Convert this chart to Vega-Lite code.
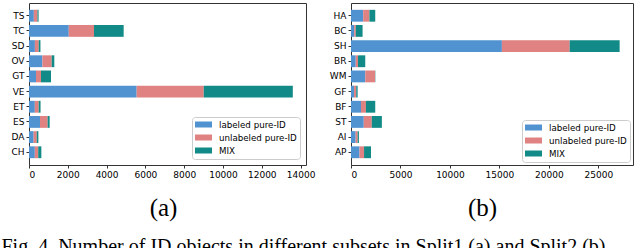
{
  "$schema": "https://vega.github.io/schema/vega-lite/v6.json",
  "background": "white",
  "padding": {"left": 0, "top": 2, "right": 0, "bottom": 0},
  "datasets": {
    "a": [
      {"s": "TS", "k": 1, "type": "labeled pure-ID", "n": 250}, {"s": "TS", "k": 2, "type": "unlabeled pure-ID", "n": 185}, {"s": "TS", "k": 3, "type": "MIX", "n": 60},
      {"s": "TC", "k": 1, "type": "labeled pure-ID", "n": 2050}, {"s": "TC", "k": 2, "type": "unlabeled pure-ID", "n": 1300}, {"s": "TC", "k": 3, "type": "MIX", "n": 1530},
      {"s": "SD", "k": 1, "type": "labeled pure-ID", "n": 305}, {"s": "SD", "k": 2, "type": "unlabeled pure-ID", "n": 195}, {"s": "SD", "k": 3, "type": "MIX", "n": 90},
      {"s": "OV", "k": 1, "type": "labeled pure-ID", "n": 690}, {"s": "OV", "k": 2, "type": "unlabeled pure-ID", "n": 480}, {"s": "OV", "k": 3, "type": "MIX", "n": 135},
      {"s": "GT", "k": 1, "type": "labeled pure-ID", "n": 360}, {"s": "GT", "k": 2, "type": "unlabeled pure-ID", "n": 260}, {"s": "GT", "k": 3, "type": "MIX", "n": 515},
      {"s": "VE", "k": 1, "type": "labeled pure-ID", "n": 5550}, {"s": "VE", "k": 2, "type": "unlabeled pure-ID", "n": 3460}, {"s": "VE", "k": 3, "type": "MIX", "n": 4590},
      {"s": "ET", "k": 1, "type": "labeled pure-ID", "n": 300}, {"s": "ET", "k": 2, "type": "unlabeled pure-ID", "n": 200}, {"s": "ET", "k": 3, "type": "MIX", "n": 95},
      {"s": "ES", "k": 1, "type": "labeled pure-ID", "n": 567}, {"s": "ES", "k": 2, "type": "unlabeled pure-ID", "n": 395}, {"s": "ES", "k": 3, "type": "MIX", "n": 103},
      {"s": "DA", "k": 1, "type": "labeled pure-ID", "n": 240}, {"s": "DA", "k": 2, "type": "unlabeled pure-ID", "n": 160}, {"s": "DA", "k": 3, "type": "MIX", "n": 83},
      {"s": "CH", "k": 1, "type": "labeled pure-ID", "n": 300}, {"s": "CH", "k": 2, "type": "unlabeled pure-ID", "n": 175}, {"s": "CH", "k": 3, "type": "MIX", "n": 162}
    ],
    "b": [
      {"s": "HA", "k": 1, "type": "labeled pure-ID", "n": 1230}, {"s": "HA", "k": 2, "type": "unlabeled pure-ID", "n": 630}, {"s": "HA", "k": 3, "type": "MIX", "n": 590},
      {"s": "BC", "k": 1, "type": "labeled pure-ID", "n": 320}, {"s": "BC", "k": 2, "type": "unlabeled pure-ID", "n": 160}, {"s": "BC", "k": 3, "type": "MIX", "n": 690},
      {"s": "SH", "k": 1, "type": "labeled pure-ID", "n": 15250}, {"s": "SH", "k": 2, "type": "unlabeled pure-ID", "n": 6850}, {"s": "SH", "k": 3, "type": "MIX", "n": 5050},
      {"s": "BR", "k": 1, "type": "labeled pure-ID", "n": 480}, {"s": "BR", "k": 2, "type": "unlabeled pure-ID", "n": 230}, {"s": "BR", "k": 3, "type": "MIX", "n": 730},
      {"s": "WM", "k": 1, "type": "labeled pure-ID", "n": 1440}, {"s": "WM", "k": 2, "type": "unlabeled pure-ID", "n": 990}, {"s": "WM", "k": 3, "type": "MIX", "n": 30},
      {"s": "GF", "k": 1, "type": "labeled pure-ID", "n": 300}, {"s": "GF", "k": 2, "type": "unlabeled pure-ID", "n": 230}, {"s": "GF", "k": 3, "type": "MIX", "n": 140},
      {"s": "BF", "k": 1, "type": "labeled pure-ID", "n": 1010}, {"s": "BF", "k": 2, "type": "unlabeled pure-ID", "n": 500}, {"s": "BF", "k": 3, "type": "MIX", "n": 940},
      {"s": "ST", "k": 1, "type": "labeled pure-ID", "n": 1290}, {"s": "ST", "k": 2, "type": "unlabeled pure-ID", "n": 810}, {"s": "ST", "k": 3, "type": "MIX", "n": 1020},
      {"s": "AI", "k": 1, "type": "labeled pure-ID", "n": 470}, {"s": "AI", "k": 2, "type": "unlabeled pure-ID", "n": 210}, {"s": "AI", "k": 3, "type": "MIX", "n": 120},
      {"s": "AP", "k": 1, "type": "labeled pure-ID", "n": 860}, {"s": "AP", "k": 2, "type": "unlabeled pure-ID", "n": 460}, {"s": "AP", "k": 3, "type": "MIX", "n": 700}
    ]
  },
  "title": {
    "text": "Fig. 4.  Number of ID objects in different subsets in Split1 (a) and Split2 (b).",
    "orient": "bottom",
    "anchor": "start",
    "frame": "bounds",
    "font": "Liberation Serif",
    "fontSize": 20,
    "fontWeight": "normal",
    "color": "black",
    "offset": 16,
    "dx": 1
  },
  "bounds": "flush",
  "spacing": 45,
  "resolve": {"scale": {"color": "independent", "x": "independent", "y": "independent"}, "legend": {"color": "independent"}},
  "hconcat": [
    {
      "data": {"name": "a"},
      "width": 277,
      "height": 162,
      "mark": {"type": "bar"},
      "encoding": {
        "y": {
          "field": "s", "type": "nominal",
          "sort": ["TS", "TC", "SD", "OV", "GT", "VE", "ET", "ES", "DA", "CH"],
          "scale": {"paddingInner": 0.22, "paddingOuter": 0.45},
          "axis": {"title": null, "minExtent": 28, "maxExtent": 28}
        },
        "x": {
          "field": "n", "type": "quantitative", "stack": "zero",
          "scale": {"domain": [0, 14280], "nice": false},
          "axis": {"values": [0, 2000, 4000, 6000, 8000, 10000, 12000, 14000], "format": "d", "title": "(a)", "titleX": 134, "titleY": 50, "titleBaseline": "alphabetic"}
        },
        "order": {"field": "k", "type": "quantitative"},
        "color": {
          "field": "type", "type": "nominal",
          "sort": ["labeled pure-ID", "unlabeled pure-ID", "MIX"],
          "scale": {"domain": ["labeled pure-ID", "unlabeled pure-ID", "MIX"], "range": ["#5193d0", "#e08282", "#128a87"]},
          "legend": {"title": null, "orient": "bottom-right", "offset": 6}
        }
      }
    },
    {
      "data": {"name": "b"},
      "width": 282,
      "height": 162,
      "mark": {"type": "bar"},
      "encoding": {
        "y": {
          "field": "s", "type": "nominal",
          "sort": ["HA", "BC", "SH", "BR", "WM", "GF", "BF", "ST", "AI", "AP"],
          "scale": {"paddingInner": 0.22, "paddingOuter": 0.45},
          "axis": {"title": null, "minExtent": 28, "maxExtent": 28}
        },
        "x": {
          "field": "n", "type": "quantitative", "stack": "zero",
          "scale": {"domain": [0, 28500], "nice": false},
          "axis": {"values": [0, 5000, 10000, 15000, 20000, 25000], "format": "d", "title": "(b)", "titleX": 131, "titleY": 50, "titleBaseline": "alphabetic"}
        },
        "order": {"field": "k", "type": "quantitative"},
        "color": {
          "field": "type", "type": "nominal",
          "sort": ["labeled pure-ID", "unlabeled pure-ID", "MIX"],
          "scale": {"domain": ["labeled pure-ID", "unlabeled pure-ID", "MIX"], "range": ["#5193d0", "#e08282", "#128a87"]},
          "legend": {"title": null, "orient": "bottom-right", "offset": 3}
        }
      }
    }
  ],
  "config": {
    "view": {"stroke": "#333", "strokeWidth": 1},
    "axis": {
      "labelFont": "DejaVu Sans", "labelFontSize": 9, "labelColor": "black",
      "tickColor": "#333", "tickSize": 3, "labelPadding": 2, "domain": false, "grid": false,
      "titleFont": "Liberation Serif", "titleFontSize": 25, "titleFontWeight": "normal", "titleColor": "black"
    },
    "axisY": {"labelPadding": 2},
    "legend": {
      "labelFont": "DejaVu Sans", "labelFontSize": 8.7, "labelColor": "black",
      "symbolType": "M-1,-0.667H2.78V0.667H-1Z", "symbolSize": 81, "symbolStrokeWidth": 0,
      "labelOffset": 15, "rowPadding": 3, "padding": 3,
      "strokeColor": "#cccccc", "fillColor": "white", "cornerRadius": 3
    }
  }
}
